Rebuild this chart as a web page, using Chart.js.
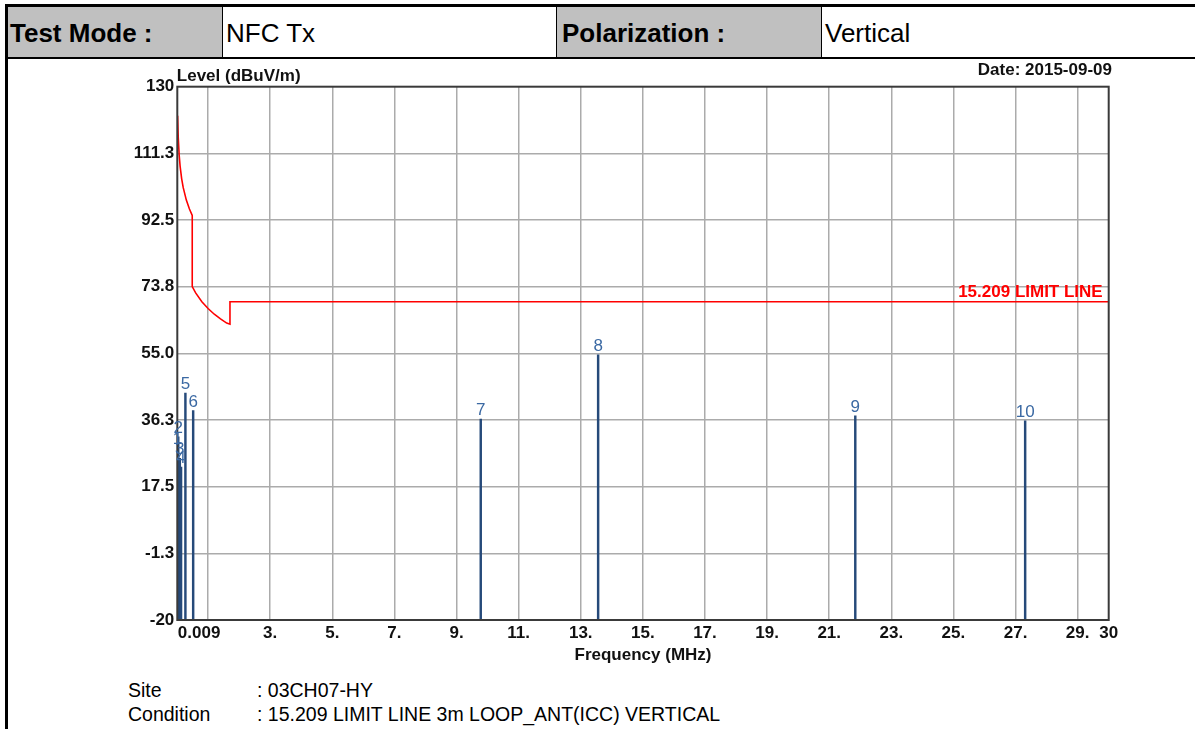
<!DOCTYPE html>
<html>
<head>
<meta charset="utf-8">
<script src="https://cdn.jsdelivr.net/npm/chart.js@4.4.1/dist/chart.umd.min.js"></script>
<style>
html,body{margin:0;padding:0;background:#fff;width:1195px;height:729px;overflow:hidden;font-family:"Liberation Sans",Arial,sans-serif;}
#page{position:relative;width:1195px;height:729px;}
.bar{position:absolute;background:#000;}
.cell{position:absolute;top:7px;height:50px;line-height:52px;font-size:26px;box-sizing:border-box;white-space:nowrap;color:#000;}
.gray{background:#c0c0c0;font-weight:bold;}
#c{position:absolute;left:0;top:60px;}
.ft{position:absolute;font-size:19.5px;line-height:22px;color:#000;white-space:nowrap;}
</style>
</head>
<body>
<div id="page">
  <div class="cell gray" style="left:8px;width:214px;padding-left:2px;">Test Mode :</div>
  <div class="cell" style="left:223px;width:333px;padding-left:3px;">NFC Tx</div>
  <div class="cell gray" style="left:557px;width:264px;padding-left:5px;">Polarization :</div>
  <div class="cell" style="left:822px;width:373px;padding-left:3px;">Vertical</div>
  <div class="bar" style="left:222px;top:7px;width:1px;height:50px;"></div>
  <div class="bar" style="left:556px;top:7px;width:1px;height:50px;"></div>
  <div class="bar" style="left:821px;top:7px;width:1px;height:50px;"></div>
  <div class="bar" style="left:5px;top:4px;width:1190px;height:3px;"></div>
  <div class="bar" style="left:5px;top:57px;width:1190px;height:2px;"></div>
  <div class="bar" style="left:5px;top:4px;width:3px;height:725px;"></div>
  <canvas id="c" width="1195" height="612"></canvas>
  <div class="ft" style="left:128px;top:679px;">Site</div>
  <div class="ft" style="left:257px;top:679px;">: 03CH07-HY</div>
  <div class="ft" style="left:128px;top:703px;">Condition</div>
  <div class="ft" style="left:257px;top:703px;">: 15.209 LIMIT LINE 3m LOOP_ANT(ICC) VERTICAL</div>
</div>
<script>
// ---- data ----
const markerNo    = ['1','2','3','4','5','6','7','8','9','10'];
const markerFreq  = [0.015, 0.04, 0.09, 0.13, 0.27, 0.52, 9.78, 13.56, 21.84, 27.31];
const markerLevel = [28.5, 31.5, 25.5, 23.0, 43.8, 38.9, 36.5, 54.6, 37.4, 36.0];

const limitFreq  = [0.009, 0.02, 0.04, 0.07, 0.1, 0.15, 0.2, 0.3, 0.4, 0.49, 0.49, 0.6, 0.8, 1.0, 1.2, 1.4, 1.6, 1.705, 1.705, 30];
const limitLevel = [121.8, 121.6, 115.6, 110.7, 107.6, 104.1, 101.6, 98.1, 95.6, 93.8, 73.8, 72.0, 69.5, 67.6, 66.0, 64.7, 63.5, 63.2, 69.5, 69.5];

const xTickValues = [0.009, 1, 3, 5, 7, 9, 11, 13, 15, 17, 19, 21, 23, 25, 27, 29, 30];
const xTickLabels = ['0.009', '', '3.', '5.', '7.', '9.', '11.', '13.', '15.', '17.', '19.', '21.', '23.', '25.', '27.', '29.', '30'];
const yTickValues = [-20, -1.25, 17.5, 36.25, 55, 73.75, 92.5, 111.25, 130];
const yTickLabels = ['-20', '-1.3', '17.5', '36.3', '55.0', '73.8', '92.5', '111.3', '130'];

const FONT = '"Liberation Sans", Arial, sans-serif';
const GRID = '#ababab';

const overlay = {
  id: 'overlay',
  afterDraw(chart) {
    const c = chart.ctx, a = chart.chartArea;
    const xs = chart.scales.x, ys = chart.scales.y;
    c.save();
    // plot frame
    c.strokeStyle = '#3a3a3a'; c.lineWidth = 2;
    c.strokeRect(a.left, a.top, a.right - a.left, a.bottom - a.top);
    // axis captions
    c.fillStyle = '#111';
    c.font = 'bold 17px ' + FONT;
    c.textBaseline = 'alphabetic';
    c.textAlign = 'left';
    c.fillText('Level (dBuV/m)', a.left - 0.5, 20.7);
    c.textAlign = 'right';
    c.fillText('Date: 2015-09-09', 1112, 15);
    // first x tick label, left aligned at axis start
    c.textAlign = 'left'; c.textBaseline = 'middle';
    c.fillText(xTickLabels[0], xs.getPixelForValue(xTickValues[0]) + 0.5, a.bottom + 3 + 10.2);
    // limit label
    c.fillStyle = '#ff0000';
    c.textAlign = 'right'; c.textBaseline = 'alphabetic';
    c.fillText('15.209 LIMIT LINE', a.right - 6, ys.getPixelForValue(limitLevel[limitLevel.length - 1]) - 5);
    // marker labels
    c.fillStyle = '#3b69a3';
    c.font = '17px ' + FONT;
    c.textAlign = 'center';
    const meta = chart.getDatasetMeta(1);
    meta.data.forEach((el, i) => {
      c.fillText(markerNo[i], el.x, el.y - 4);
    });
    c.restore();
  }
};

new Chart(document.getElementById('c'), {
  type: 'bar',
  data: {
    datasets: [
      {
        type: 'line',
        label: '15.209 LIMIT LINE',
        data: limitFreq.map((f, i) => ({x: f, y: limitLevel[i]})),
        borderColor: '#ff0000',
        borderWidth: 1.6,
        pointRadius: 0,
        fill: false,
        tension: 0,
        order: 1
      },
      {
        type: 'bar',
        label: 'Markers',
        data: markerFreq.map((f, i) => ({x: f, y: markerLevel[i]})),
        base: -20,
        backgroundColor: '#264a7a',
        barThickness: 1.8,
        order: 2
      }
    ]
  },
  options: {
    responsive: false,
    animation: false,
    layout: {padding: {top: 26.7, right: 86.3, bottom: 0, left: 0}},
    plugins: {legend: {display: false}, tooltip: {enabled: false}},
    scales: {
      x: {
        type: 'linear',
        min: 0.009, max: 30,
        offset: false,
        grid: {
          offset: false,
          drawTicks: false,
          lineWidth: 1.5,
          color: ctx => (ctx.tick && (ctx.tick.value === 0.009 || ctx.tick.value === 30)) ? 'rgba(0,0,0,0)' : GRID
        },
        border: {display: false},
        ticks: {
          autoSkip: false, maxRotation: 0, minRotation: 0, padding: 3,
          color: '#111',
          font: {family: FONT, size: 17, weight: 'bold'},
          callback: (v, i) => i === 0 ? '' : xTickLabels[i]
        },
        afterBuildTicks: s => { s.ticks = xTickValues.map(v => ({value: v})); },
        afterFit: s => { s.height = 52; },
        title: {
          display: true, text: 'Frequency (MHz)', color: '#111',
          font: {family: FONT, size: 17, weight: 'bold'},
          padding: {top: 0, bottom: 6}
        }
      },
      y: {
        type: 'linear',
        min: -20, max: 130,
        grid: {
          drawTicks: false,
          lineWidth: 1.5,
          color: ctx => (ctx.tick && (ctx.tick.value === -20 || ctx.tick.value === 130)) ? 'rgba(0,0,0,0)' : GRID
        },
        border: {display: false},
        ticks: {
          padding: 3,
          color: '#111',
          font: {family: FONT, size: 17, weight: 'bold'},
          callback: (v, i) => yTickLabels[i]
        },
        afterBuildTicks: s => { s.ticks = yTickValues.map(v => ({value: v})); },
        afterFit: s => { s.width = 177.3; }
      }
    }
  },
  plugins: [overlay]
});
</script>
</body>
</html>
